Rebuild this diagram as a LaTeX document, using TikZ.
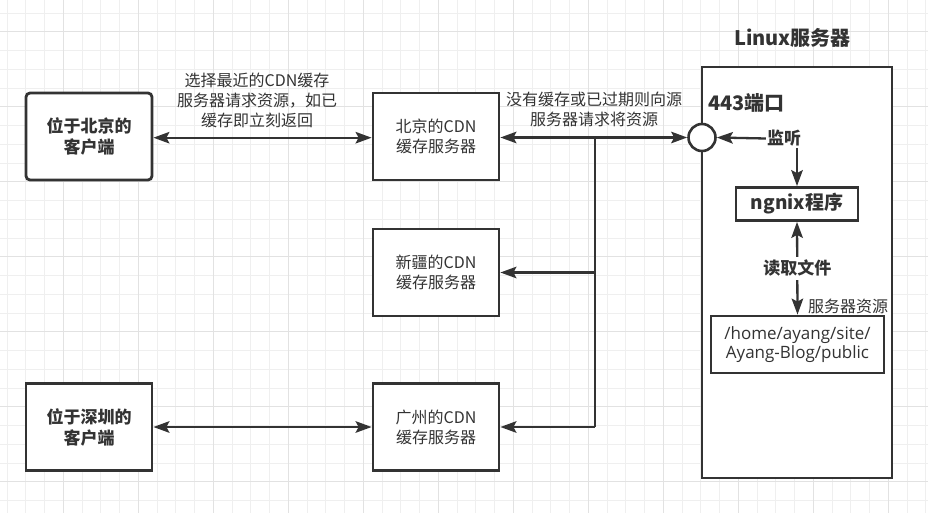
\documentclass[tikz,border=0pt]{standalone}
\usepackage{fontspec}
\setmainfont{Noto Sans CJK SC}
\newfontfamily\pathfont{Open Sans}
\usetikzlibrary{arrows.meta}
\definecolor{ink}{HTML}{333333}
\definecolor{gridminor}{HTML}{EFEFEF}
\definecolor{gridmajor}{HTML}{E2E2E2}
\tikzset{
  box/.style={draw=ink, line width=2.8pt, fill=white, minimum width=126pt, minimum height=87pt, inner sep=0pt, align=center, text=ink},
  clientbox/.style={box, rounded corners=4pt, font=\fontsize{17}{21}\selectfont\bfseries},
  cdnbox/.style={box, font=\fontsize{16}{20}\selectfont},
  lbl/.style={text=ink, align=center, inner sep=1pt},
  conn/.style={draw=ink, line width=2.3pt},
  arr/.style={conn, -{Stealth[length=16pt,width=11.5pt,inset=3pt]}},
  biarr/.style={conn, {Stealth[length=16pt,width=11.5pt,inset=3pt]}-{Stealth[length=16pt,width=11.5pt,inset=3pt]}},
}
\begin{document}
\begin{tikzpicture}[x=1pt,y=-1pt]
\useasboundingbox (0,0) rectangle (928,513);
% grid
\foreach \i in {0,...,49} {\draw[gridminor, line width=0.8pt] ({7.05+18.75*\i},0) -- ++(0,513);}
\foreach \i in {0,...,27} {\draw[gridminor, line width=0.8pt] (0,{12.95+18.75*\i}) -- ++(928,0);}
\foreach \i in {0,...,12} {\draw[gridmajor, line width=0.8pt] ({63.3+75*\i},0) -- ++(0,513);}
\foreach \i in {0,...,6} {\draw[gridmajor, line width=0.8pt] (0,{31.7+75*\i}) -- ++(928,0);}

% linux server
\node[draw=ink, line width=2.8pt, fill=white, minimum width=190pt, minimum height=411pt, inner sep=0pt] (linux) at (797,272.5) {};
\node[lbl, font=\fontsize{20}{24}\selectfont\bfseries] (title) at (792.5,37.5) {Linux服务器};
\node[lbl, font=\fontsize{20}{24}\selectfont\bfseries, anchor=west] (portlbl) at (707,103) {443端口};
\node[draw=ink, line width=2.6pt, fill=white, circle, minimum size=27pt, inner sep=0pt] (port) at (702,137.5) {};
\node[lbl, fill=white, font=\fontsize{17}{20}\selectfont\bfseries] (listen) at (784,138.5) {监听};
\node[draw=ink, line width=2.8pt, fill=white, minimum width=122pt, minimum height=33pt, inner sep=0pt, text=ink, font=\fontsize{19}{22}\selectfont\bfseries] (ngx) at (797,204) {ngnix程序};
\node[draw=ink, line width=2.8pt, fill=white, minimum width=173pt, minimum height=57pt, inner sep=0pt, align=center, text=ink, font=\pathfont\fontsize{17}{19.5}\selectfont] (res) at (797.5,344.5) {/home/ayang/site/\\Ayang-Blog/public};
\node[lbl, font=\fontsize{16}{20}\selectfont, anchor=west] (reslbl) at (807,306) {服务器资源};

% clients and CDN servers
\node[clientbox] (bjc) at (89,136.5) {位于北京的\\客户端};
\node[box, font=\fontsize{17}{21}\selectfont\bfseries] (szc) at (89,427) {位于深圳的\\客户端};
\node[cdnbox] (bjcdn) at (436,136.5) {北京的CDN\\缓存服务器};
\node[cdnbox] (xjcdn) at (436,272.5) {新疆的CDN\\缓存服务器};
\node[cdnbox] (gzcdn) at (436,427) {广州的CDN\\缓存服务器};

% labels
\node[lbl, font=\fontsize{16}{20}\selectfont] (l1) at (257,100) {选择最近的CDN缓存\\服务器请求资源，如已\\缓存即立刻返回};
\node[lbl, font=\fontsize{16}{20}\selectfont] (l2) at (594,109) {没有缓存或已过期则向源\\服务器请求将资源};

% connectors
\draw[biarr] (bjc.east |- 0,137.7) -- (bjcdn.west |- 0,137.7);
\draw[biarr] (bjcdn.east |- port.west) -- (port.west);
\coordinate (j1) at (595,137.5);
\draw[conn] (j1) -- (j1 |- gzcdn.east);
\draw[arr] (j1 |- xjcdn.east) -- (xjcdn.east);
\draw[arr] (j1 |- gzcdn.east) -- (gzcdn.east);
\draw[biarr] (szc.east) -- (gzcdn.west);
\draw[arr] (listen.west) -- (port.east);
\draw[arr] (ngx.north |- listen.south) -- (ngx.north);
\draw[biarr] (ngx.south) -- (res.north) node[midway, lbl, fill=white, font=\fontsize{17}{20}\selectfont\bfseries, inner sep=3pt] (read) {读取文件};
\end{tikzpicture}
\end{document}
